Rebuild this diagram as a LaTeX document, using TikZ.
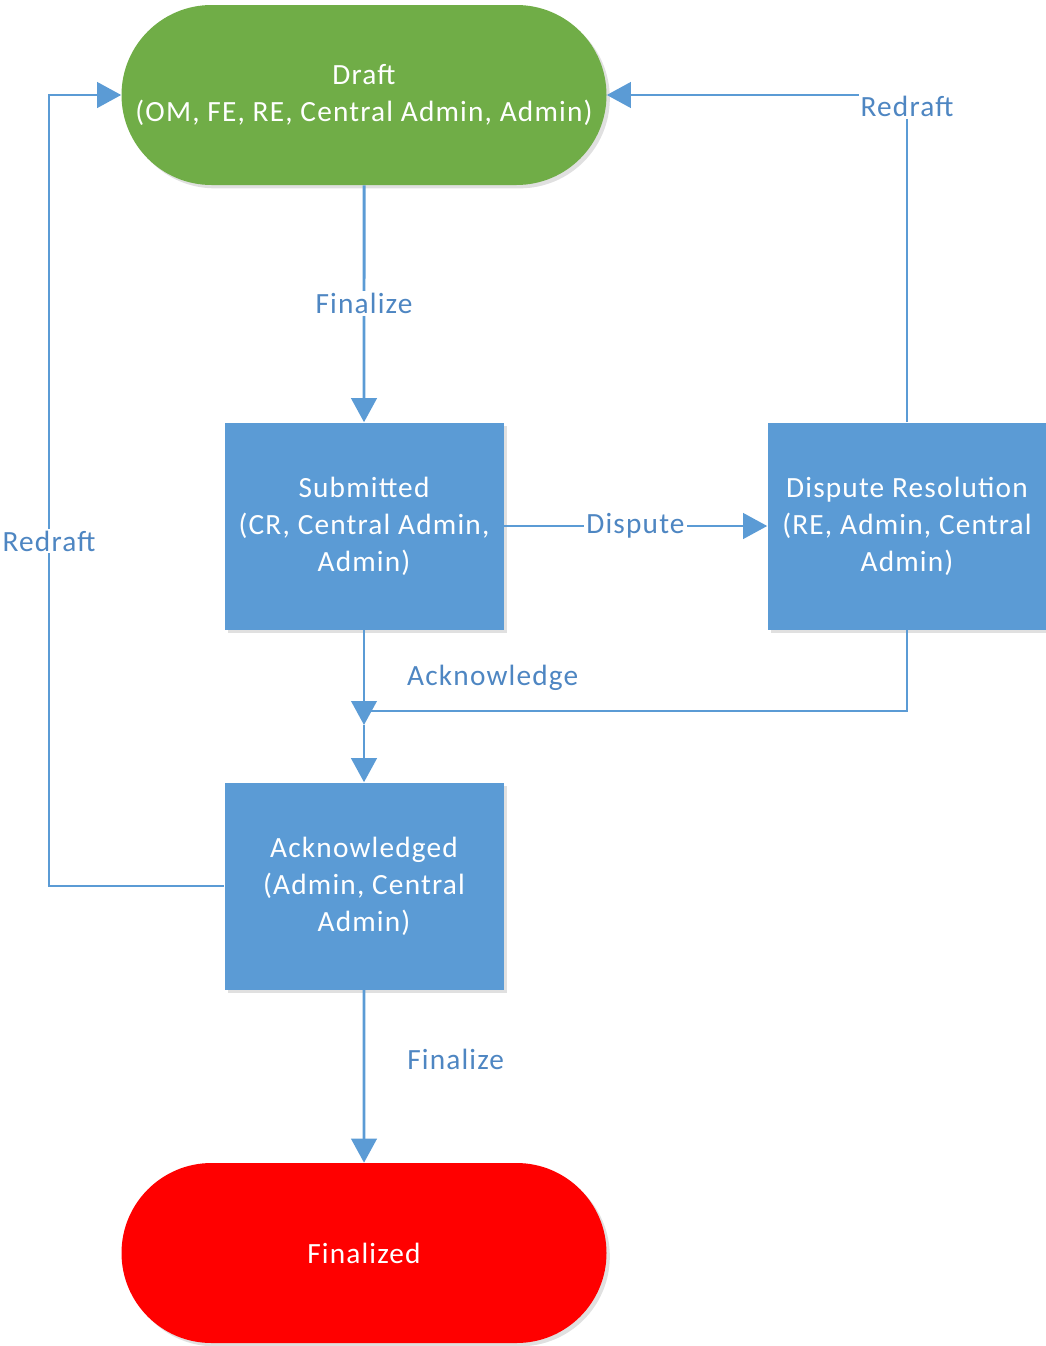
\documentclass[tikz,border=0pt]{standalone}
\usepackage{fontspec}
\setmainfont[LetterSpace=4]{Carlito}
\usetikzlibrary{arrows.meta,shapes.misc,shadows}
\definecolor{lineblue}{HTML}{5B9BD5}
\definecolor{boxblue}{HTML}{5B9BD5}
\definecolor{dgreen}{HTML}{70AD47}
\definecolor{labblue}{HTML}{4E86C2}
\begin{document}
\begin{tikzpicture}[x=0.75pt,y=-0.75pt,
  every node/.style={font=\fontsize{22}{27.75}\selectfont},
  softshadow/.style={drop shadow={shadow xshift=2.5pt,shadow yshift=-2.5pt,opacity=0.12,fill=black}},
  statebox/.style={fill=boxblue,text=white,minimum width=209.25pt,minimum height=155.25pt,align=center,inner sep=0pt,softshadow},
  terminal/.style={rounded rectangle,minimum width=363.75pt,minimum height=135pt,text=white,align=center,inner sep=0pt,softshadow},
  line/.style={draw=lineblue,line width=2.2pt},
  conn/.style={line,-{Triangle[length=18pt,width=19pt]}},
  lab/.style={text=labblue,fill=white,inner sep=1.5pt}
]
\useasboundingbox (0,0) rectangle (1046,1346);
\node[terminal,fill=dgreen] (draft) at (364,95) {Draft\\(OM, FE, RE, Central Admin, Admin)};
\node[statebox] (sub) at (364,526) {Submitted\\(CR, Central Admin,\\Admin)};
\node[statebox] (disp) at (907,526) {Dispute Resolution\\(RE, Admin, Central\\Admin)};
\node[statebox] (ack) at (364,886) {Acknowledged\\(Admin, Central\\Admin)};
\node[terminal,fill=red] (fin) at (364,1253) {Finalized};
\coordinate (m) at (364,711);
\coordinate (mtip) at (364,725);
\coordinate (lft) at (49,0);

\draw[conn] (draft) -- node[lab]{Finalize} (sub);
\draw[conn] (sub) -- node[lab]{Dispute} (disp);
\draw[conn] (disp.north) |- node[lab,pos=0.482]{Redraft} (draft.east);
\draw[conn] (sub) -- node[text=labblue,anchor=west,pos=0.5,xshift=28pt]{Acknowledge} (mtip);
\draw[line] (disp.south) |- (m);
\draw[conn] (mtip) -- (ack);
\draw[conn] (ack.west) -- (ack.west -| lft) -- node[lab,pos=0.436]{Redraft} (draft.west -| lft) -- (draft.west);
\draw[conn] (ack) -- node[text=labblue,anchor=west,pos=0.4,xshift=28pt]{Finalize} (fin);
\end{tikzpicture}
\end{document}
